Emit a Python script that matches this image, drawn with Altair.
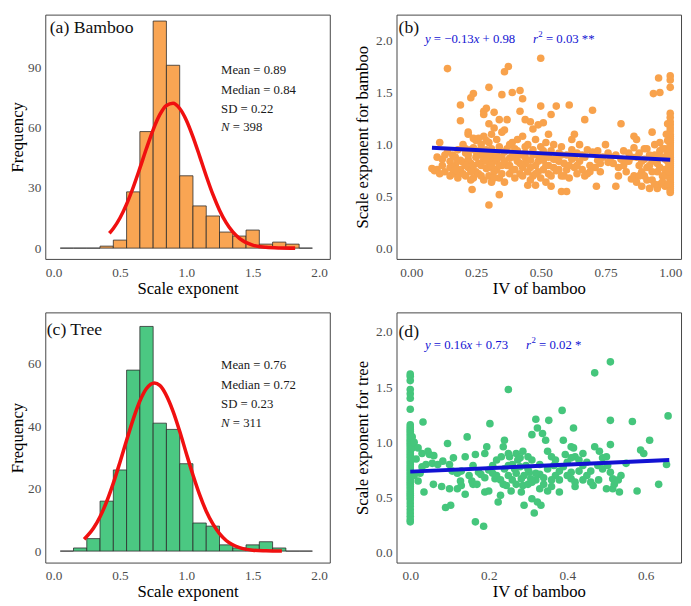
import altair as alt
import pandas as pd

FONT = "Liberation Serif"
ORANGE = "#F9A553"
ORANGE_PT = "#F8A24C"
GREEN = "#4BC882"
GREEN_PT = "#45C67C"
BLUE = "#1212D2"
RED = "#F01010"
LABEL_GREY = "#4d4d4d"

# ---------------- data ----------------
bin_centers = [0.1, 0.2, 0.3, 0.4, 0.5, 0.6, 0.7, 0.8, 0.9, 1.0,
               1.1, 1.2, 1.3, 1.4, 1.5, 1.6, 1.7, 1.8, 1.9]
bamboo_counts = [0, 0, 0, 1, 4, 28, 58, 113, 91, 36, 21, 16, 8, 6, 9, 2, 3, 2, 0]
tree_counts = [0, 1, 4, 16, 26, 58, 72, 41, 39, 28, 9, 8, 2, 1, 2, 3, 1, 0, 0]

bamboo_curve_x = [0.42, 0.45, 0.5, 0.55, 0.6, 0.65, 0.7, 0.75, 0.8, 0.85, 0.9, 0.95,
                  1.0, 1.05, 1.1, 1.15, 1.2, 1.25, 1.3, 1.35, 1.4, 1.5, 1.6, 1.7, 1.82]
bamboo_curve_y = [7.4, 9.8, 15.0, 21.9, 30.3, 39.8, 49.7, 58.9, 66.4, 71.0, 72.1, 69.5,
                  63.7, 55.4, 45.8, 35.9, 26.7, 18.9, 12.7, 8.1, 4.9, 1.5, 0.4, 0.1, 0.0]
tree_curve_x = [0.23, 0.3, 0.35, 0.4, 0.45, 0.5, 0.55, 0.6, 0.65, 0.7, 0.76, 0.8, 0.9,
                0.95, 1.0, 1.05, 1.1, 1.15, 1.2, 1.25, 1.3, 1.4, 1.5, 1.6, 1.72]
tree_curve_y = [3.8, 7.3, 11.0, 15.9, 21.8, 28.5, 35.5, 42.3, 48.1, 52.1, 53.9, 53.1, 44.8,
                38.4, 31.3, 24.4, 18.1, 12.8, 8.7, 5.6, 3.4, 1.1, 0.3, 0.1, 0.0]

bamboo_stats = ["Mean = 0.89", "Median = 0.84", "SD = 0.22"]
bamboo_n = "= 398"
tree_stats = ["Mean = 0.76", "Median = 0.72", "SD = 0.23"]
tree_n = "= 311"

# panel (b): IV of bamboo vs scale exponent for bamboo
bam_iv = [
    0.08, 0.10, 0.11, 0.10, 0.12, 0.13, 0.12, 0.14, 0.15, 0.14, 0.15, 0.09,
    0.16, 0.17, 0.17, 0.18, 0.19, 0.19, 0.20, 0.21, 0.21, 0.22, 0.22, 0.23, 0.23, 0.24, 0.25,
    0.25, 0.25, 0.235, 0.19, 0.19, 0.22, 0.23, 0.24, 0.24, 0.16, 0.20, 0.18, 0.23, 0.24, 0.22,
    0.26, 0.26, 0.27, 0.27, 0.28, 0.28, 0.28, 0.28, 0.29, 0.29, 0.29, 0.30, 0.30, 0.30, 0.30,
    0.30, 0.31, 0.31, 0.32, 0.32, 0.32, 0.33, 0.33, 0.33, 0.34, 0.34, 0.34, 0.34, 0.35, 0.35,
    0.35, 0.30, 0.27, 0.28, 0.31, 0.32,
    0.36, 0.36, 0.36, 0.36, 0.37, 0.375, 0.37, 0.38, 0.38, 0.38, 0.39, 0.39, 0.39, 0.40, 0.40,
    0.41, 0.41, 0.42, 0.42, 0.42, 0.42, 0.43, 0.43, 0.43, 0.44, 0.45, 0.44, 0.44, 0.45, 0.45,
    0.40, 0.35, 0.44,
    0.46, 0.46, 0.47, 0.47, 0.47, 0.48, 0.48, 0.48, 0.49, 0.49, 0.49, 0.50, 0.50, 0.50, 0.50,
    0.51, 0.51, 0.51, 0.52, 0.52, 0.52, 0.53, 0.53, 0.53, 0.54, 0.54, 0.54, 0.55, 0.55, 0.55,
    0.50, 0.46,
    0.56, 0.56, 0.57, 0.57, 0.58, 0.58, 0.58, 0.60, 0.59, 0.60, 0.60, 0.61, 0.61, 0.62, 0.62,
    0.62, 0.63, 0.63, 0.64, 0.64, 0.65, 0.65,
    0.66, 0.67, 0.67, 0.68, 0.68, 0.70, 0.69, 0.70, 0.715, 0.72, 0.73, 0.74, 0.75, 0.76, 0.76,
    0.67, 0.71,
    0.79, 0.78, 0.79, 0.80, 0.81, 0.81, 0.82, 0.83, 0.84, 0.85, 0.85, 0.86, 0.86, 0.84,
    0.86, 0.87, 0.87, 0.88, 0.89, 0.88, 0.89, 0.90, 0.90, 0.91, 0.91, 0.92, 0.93, 0.93, 0.93,
    0.94, 0.94, 0.935, 0.95, 0.95, 0.955, 0.95, 0.96, 0.96, 0.96, 0.96, 0.97, 0.97, 0.98, 0.98,
    0.98, 0.99,
    1.0, 1.0, 1.0, 1.0, 1.0, 1.0, 1.0, 1.0, 1.0, 1.0, 1.0, 1.0, 1.0, 1.0, 1.0, 1.0, 1.0, 1.0,
    1.0, 1.0, 1.0, 1.0, 1.0, 1.0, 1.0, 1.0, 1.0, 1.0, 1.0, 1.0, 1.0, 1.0, 1.0, 1.0, 1.0, 1.0,
    1.0, 1.0,
    0.11, 0.13, 0.15, 0.17, 0.18, 0.18, 0.20, 0.21, 0.21, 0.22, 0.23, 0.24, 0.25, 0.26, 0.26,
    0.27, 0.28, 0.29, 0.29, 0.30, 0.31, 0.31, 0.32, 0.33, 0.34, 0.35, 0.36, 0.37, 0.38, 0.39,
    0.40, 0.41, 0.42, 0.43, 0.44, 0.46, 0.47, 0.48, 0.49, 0.51, 0.52, 0.53, 0.54, 0.56, 0.57,
    0.58, 0.59, 0.61, 0.63, 0.64, 0.66, 0.69, 0.72, 0.73, 0.77, 0.80, 0.82, 0.83, 0.87, 0.88,
    0.89, 0.90, 0.91, 0.92, 0.92, 0.93, 0.94, 0.95, 0.96, 0.97, 0.97, 0.98, 0.98, 0.99, 0.99,
    0.99, 0.995, 0.995, 0.985, 0.99,
]
bam_se = [
    0.77, 0.88, 1.02, 0.76, 0.80, 0.74, 0.86, 0.93, 0.78, 1.73, 0.84, 0.75,
    0.72, 0.80, 0.88, 0.95, 0.76, 0.85, 1.00, 0.92, 0.70, 0.78, 1.10, 0.82, 0.66, 0.97, 0.88,
    1.04, 0.74, 0.57, 1.23, 1.38, 1.12, 1.45, 1.49, 0.68, 0.90, 0.83, 0.74, 0.95, 1.06, 0.86,
    0.72, 0.90, 1.00, 0.80, 0.66, 1.08, 1.32, 1.29, 1.35, 0.95, 0.77, 0.70, 0.42, 1.55, 1.20,
    1.02, 0.86, 0.64, 1.16, 1.31, 0.92, 0.76, 1.05, 0.84, 0.52, 1.24, 0.98, 0.68, 0.88, 1.12,
    1.48, 0.78, 0.96, 0.86, 1.10, 0.74,
    0.64, 1.14, 1.70, 0.93, 0.80, 1.75, 1.24, 0.72, 1.00, 0.87, 1.02, 1.50, 0.76, 0.68, 0.96,
    0.84, 1.05, 0.72, 1.52, 1.32, 0.90, 0.78, 1.44, 1.08, 0.98, 0.61, 1.24, 0.82, 0.74, 1.00,
    0.88, 0.80, 0.92,
    0.85, 1.22, 0.70, 1.15, 0.95, 0.61, 1.05, 0.80, 1.19, 0.90, 0.74, 1.83, 1.37, 0.68, 0.98,
    0.85, 1.21, 0.76, 1.02, 0.64, 0.90, 1.10, 0.80, 0.72, 1.29, 0.60, 0.94, 0.86, 0.78, 1.00,
    0.88, 0.66,
    1.37, 0.75, 0.92, 0.84, 0.55, 0.70, 0.98, 0.55, 0.82, 0.76, 0.90, 1.38, 0.68, 0.95, 0.86,
    1.05, 0.78, 1.10, 0.72, 0.92, 0.84, 1.00,
    0.76, 1.24, 0.88, 0.72, 0.95, 1.33, 0.80, 0.93, 0.60, 0.85, 0.74, 0.88, 1.00, 0.92, 0.83,
    0.70, 0.78,
    0.60, 0.82, 0.90, 0.78, 0.86, 1.20, 0.80, 0.74, 0.92, 0.67, 0.88, 0.97, 0.70, 0.84,
    1.08, 1.05, 0.64, 0.80, 0.74, 0.92, 0.60, 0.86, 0.70, 0.96, 0.78, 0.58, 1.12, 0.84, 0.66,
    1.00, 0.90, 1.49, 0.74, 0.58, 1.64, 0.82, 0.94, 1.50, 0.62, 1.02, 0.70, 0.88, 0.76, 0.60,
    0.96, 0.84,
    0.54, 0.56, 0.58, 0.60, 0.62, 0.64, 0.66, 0.68, 0.70, 0.72, 0.74, 0.76, 0.78, 0.80, 0.82,
    0.84, 0.86, 0.88, 0.90, 0.92, 0.94, 0.96, 0.98, 1.00, 1.02, 1.04, 1.06, 1.08, 1.10, 1.13,
    1.16, 1.19, 1.22, 1.26, 1.30, 1.55, 1.62, 1.66,
    0.72, 0.90, 0.70, 0.76, 0.84, 0.68, 0.72, 0.80, 0.96, 0.90, 0.74, 0.80, 0.94, 0.82, 1.06,
    0.70, 0.92, 0.84, 1.04, 0.90, 0.80, 0.96, 0.68, 0.90, 0.80, 0.72, 0.84, 0.96, 0.80, 0.90,
    0.76, 0.94, 0.82, 0.70, 0.88, 0.78, 0.90, 0.72, 0.84, 0.94, 0.80, 0.88, 0.70, 0.86, 0.76,
    0.90, 0.70, 0.80, 0.88, 0.80, 0.90, 0.74, 0.94, 0.82, 0.88, 0.70, 0.94, 0.84, 0.88, 0.70,
    0.84, 0.96, 0.66, 0.80, 0.90, 0.74, 0.62, 0.88, 0.78, 0.64, 0.96, 0.86, 0.70, 0.62, 0.92,
    1.04, 0.74, 0.80, 1.10, 1.20,
]

# panel (d): IV of bamboo vs scale exponent for tree
tree_iv = [
    0.0, 0.0, 0.0, 0.0, 0.0, 0.0, 0.0, 0.0, 0.0, 0.0, 0.0, 0.0, 0.0, 0.0, 0.0, 0.0, 0.0, 0.0,
    0.0, 0.0, 0.0, 0.0, 0.0, 0.0, 0.0, 0.0, 0.0, 0.0, 0.0, 0.0, 0.0, 0.0, 0.0, 0.0, 0.0, 0.0,
    0.0, 0.0, 0.0, 0.0, 0.0, 0.0, 0.0, 0.0, 0.0, 0.0, 0.0, 0.0, 0.0,
    0.005, 0.005, 0.005, 0.005,
    0.01, 0.02, 0.02, 0.03, 0.0325, 0.035, 0.04, 0.049, 0.059, 0.056, 0.045, 0.025, 0.03, 0.015,
    0.01,
    0.083, 0.095, 0.09, 0.103, 0.10, 0.107, 0.12, 0.13, 0.145, 0.14, 0.14, 0.128, 0.157, 0.16,
    0.166, 0.166, 0.187, 0.16, 0.174, 0.19, 0.195, 0.203, 0.19, 0.20, 0.18, 0.21, 0.216, 0.224,
    0.23, 0.232, 0.237, 0.24, 0.237, 0.245, 0.25, 0.253, 0.257, 0.25, 0.27, 0.274, 0.266, 0.283,
    0.287, 0.283, 0.287, 0.29, 0.30, 0.295, 0.303, 0.307, 0.316, 0.31, 0.324, 0.333, 0.32,
    0.324, 0.337, 0.345, 0.31, 0.33, 0.353, 0.35, 0.36, 0.366, 0.37, 0.38, 0.387, 0.39, 0.395,
    0.41, 0.416, 0.42, 0.416, 0.41, 0.41, 0.43, 0.44, 0.45, 0.46, 0.466, 0.47, 0.47, 0.482,
    0.478, 0.49, 0.51, 0.51, 0.51, 0.50, 0.503, 0.51, 0.516, 0.50, 0.516, 0.533, 0.537, 0.55,
    0.566, 0.578, 0.587, 0.595, 0.61, 0.633, 0.657, 0.653,
    0.22, 0.26, 0.28, 0.30, 0.32, 0.34, 0.36, 0.38, 0.40, 0.42, 0.44, 0.35, 0.33, 0.27, 0.25,
    0.12, 0.20, 0.06, 0.11, 0.15,
    0.21, 0.22, 0.23, 0.24, 0.25, 0.26, 0.27, 0.28, 0.29, 0.30, 0.31, 0.31, 0.32, 0.33, 0.34,
    0.35, 0.36, 0.37, 0.38, 0.39, 0.40, 0.41, 0.42, 0.43, 0.44, 0.45, 0.46, 0.48, 0.49, 0.52,
    0.53, 0.10, 0.13, 0.17, 0.19, 0.07, 0.08,
]
tree_se = [
    0.28, 0.30, 0.33, 0.36, 0.39, 0.42, 0.45, 0.48, 0.50, 0.52, 0.54, 0.56, 0.58, 0.60, 0.62,
    0.64, 0.66, 0.68, 0.70, 0.72, 0.74, 0.76, 0.78, 0.80, 0.82, 0.84, 0.86, 0.88, 0.90, 0.92,
    0.94, 0.96, 0.98, 1.00, 1.02, 1.04, 1.06, 1.08, 1.10, 1.12, 1.14, 1.16, 1.30, 1.40, 1.44,
    1.48, 1.56, 1.60, 1.62,
    0.85, 0.95, 1.05, 0.70,
    1.00, 0.95, 0.65, 0.90, 1.185, 0.55, 0.80, 0.89, 0.62, 0.81, 0.92, 0.72, 0.78, 0.85,
    0.70,
    0.83, 0.99, 0.41, 0.43, 0.58, 0.74, 0.58, 0.61, 1.05, 0.87, 0.53, 0.65, 0.65, 0.62,
    0.89, 0.28, 0.24, 0.79, 0.73, 0.90, 0.96, 1.17, 0.55, 0.56, 0.71, 0.79, 0.67, 0.46,
    0.52, 0.87, 0.96, 1.02, 0.62, 0.61, 0.79, 0.87, 0.56, 1.48, 0.90, 0.84, 0.76, 0.67,
    0.61, 0.55, 0.92, 0.43, 0.87, 0.79, 0.73, 0.67, 0.36, 0.49, 0.46, 0.43, 1.21,
    1.13, 1.08, 1.02, 1.07, 0.71, 1.20, 0.56, 0.87, 0.79, 0.70, 0.55, 1.29, 1.02, 0.89,
    0.96, 0.95, 0.87, 1.13, 0.73, 0.67, 0.84, 0.79, 0.70, 0.64, 0.61, 1.63, 0.96, 0.92,
    0.79, 0.76, 1.73, 1.20, 0.98, 0.87, 0.79, 0.73, 0.67, 0.58, 0.58, 0.55, 0.70, 0.81,
    1.19, 0.56, 0.93, 0.90, 1.02, 0.62, 1.24, 0.80,
    0.70, 0.66, 0.78, 0.62, 0.66, 0.62, 0.66, 0.74, 0.82, 0.60, 0.90, 0.92, 0.58, 0.72, 0.70,
    0.72, 0.75, 0.88, 0.86, 0.70,
    0.72, 0.84, 0.66, 0.76, 0.90, 0.80, 0.62, 0.86, 0.70, 0.76, 0.64, 0.84, 0.72, 0.80, 0.68,
    0.76, 0.60, 0.84, 0.66, 0.78, 0.70, 0.86, 0.64, 0.74, 0.66, 0.82, 0.74, 0.66, 0.86, 0.62,
    0.66, 0.80, 0.74, 0.62, 0.68, 0.80, 0.60,
]

bam_fit_x = [0.08, 1.0]
bam_fit_y = [0.97, 0.855]
tree_fit_x = [0.0, 0.66]
tree_fit_y = [0.735, 0.84]

# ---------------- helpers ----------------
CHAR_W = {"0": .5, "1": .5, "2": .5, "3": .5, "4": .5, "5": .5, "6": .5, "7": .5,
          "8": .5, "9": .5, ".": .25, " ": .25, "=": .564, "+": .564, "\u2212": .564,
          "*": .5, "y": .444, "x": .444, "r": .389, "N": .667}


def text_width(s, size):
    return sum(CHAR_W.get(c, .5) for c in s) * size


def axis_common():
    return dict(grid=False, ticks=False, domain=False, labelFont=FONT,
                labelFontSize=13.5, labelColor=LABEL_GREY, titleFont=FONT,
                titleFontSize=17, titleFontWeight="normal", titleColor="#000000",
                labelFlush=False, labelOverlap=False)


def xaxis(title, values, fmt):
    return alt.Axis(title=title, values=values, format=fmt, labelPadding=6.5,
                    titlePadding=2, **axis_common())


def yaxis(title, values, fmt, title_pad):
    return alt.Axis(title=title, values=values, format=fmt, labelPadding=4.5,
                    titlePadding=title_pad, **axis_common())


def text_runs(x0, y0, runs, color, xs, ys, xa, ya):
    """runs: list of (text, style, size, gap_em_before, dy)"""
    layers = []
    off = 0.0
    prev_w = 0.0
    for txt, style, size, gap, dy in runs:
        off += prev_w + gap * 13
        layers.append(
            alt.Chart(pd.DataFrame({"x": [x0], "y": [y0]})).mark_text(
                text=txt, font=FONT, fontSize=size, fontStyle=style, color=color,
                align="left", baseline="middle", dx=off, dy=dy
            ).encode(x=alt.X("x:Q", scale=xs, axis=xa), y=alt.Y("y:Q", scale=ys, axis=ya))
        )
        prev_w = text_width(txt, size)
    return layers


def hist_panel(counts, cx, cy, fill, ydom, yvals, label, label_pos, stats, nval,
               stat_x, stat_y, width, height):
    xs = alt.Scale(domain=[-0.0627, 2.081], nice=False, zero=False)
    ys = alt.Scale(domain=ydom, nice=False, zero=False)
    xa = xaxis("Scale exponent", [0, 0.5, 1.0, 1.5, 2.0], ".1f")
    ya = yaxis("Frequency", yvals, "d", 1.5)
    df = pd.DataFrame({"center": bin_centers, "count": counts})
    bars = alt.Chart(df).transform_calculate(
        x0="datum.center - 0.05", x1="datum.center + 0.05", base="0"
    ).mark_rect(fill=fill, stroke="#2b2b2b", strokeWidth=0.8).encode(
        x=alt.X("x0:Q", scale=xs, axis=xa), x2="x1:Q",
        y=alt.Y("count:Q", scale=ys, axis=ya), y2="base:Q")
    curve = alt.Chart(pd.DataFrame({"x": cx, "y": cy})).mark_line(
        color=RED, strokeWidth=3.6, interpolate="monotone", strokeCap="butt"
    ).encode(x=alt.X("x:Q", scale=xs, axis=xa), y=alt.Y("y:Q", scale=ys, axis=ya))
    lab = alt.Chart(pd.DataFrame({"x": [label_pos[0]], "y": [label_pos[1]], "t": [label]})).mark_text(
        font=FONT, fontSize=18, align="left", baseline="middle", color="#111111"
    ).encode(x=alt.X("x:Q", scale=xs, axis=xa), y=alt.Y("y:Q", scale=ys, axis=ya), text="t:N")
    sdf = pd.DataFrame({"x": [stat_x] * 3, "y": stat_y[:3], "t": stats})
    st = alt.Chart(sdf).mark_text(
        font=FONT, fontSize=13, align="left", baseline="middle", color="#1a1a1a"
    ).encode(x=alt.X("x:Q", scale=xs, axis=xa), y=alt.Y("y:Q", scale=ys, axis=ya), text="t:N")
    nruns = text_runs(stat_x, stat_y[3], [("N", "italic", 13, 0, 0), (nval, "normal", 13, .25, 0)],
                      "#1a1a1a", xs, ys, xa, ya)
    return alt.layer(bars, curve, lab, st, *nruns).properties(width=width, height=height)


def scatter_panel(px, py, color, xdom, xvals, xfmt, ytitle, ydom, fitx, fity, label,
                  label_pos, eq_pos, eq_runs, r_pos, r_runs, width, height):
    xs = alt.Scale(domain=xdom, nice=False, zero=False)
    ys = alt.Scale(domain=ydom, nice=False, zero=False)
    xa = xaxis("IV of bamboo", xvals, xfmt)
    ya = yaxis(ytitle, [0, 0.5, 1.0, 1.5, 2.0], ".1f", 4)
    pts = alt.Chart(pd.DataFrame({"x": px, "y": py})).mark_circle(
        size=60, opacity=1, color=color
    ).encode(x=alt.X("x:Q", scale=xs, axis=xa), y=alt.Y("y:Q", scale=ys, axis=ya))
    fit = alt.Chart(pd.DataFrame({"x": fitx, "y": fity})).mark_line(
        color=BLUE, strokeWidth=4
    ).encode(x=alt.X("x:Q", scale=xs, axis=xa), y=alt.Y("y:Q", scale=ys, axis=ya))
    lab = alt.Chart(pd.DataFrame({"x": [label_pos[0]], "y": [label_pos[1]], "t": [label]})).mark_text(
        font=FONT, fontSize=18, align="left", baseline="middle", color="#111111"
    ).encode(x=alt.X("x:Q", scale=xs, axis=xa), y=alt.Y("y:Q", scale=ys, axis=ya), text="t:N")
    eq = text_runs(eq_pos[0], eq_pos[1], eq_runs, BLUE, xs, ys, xa, ya)
    rr = text_runs(r_pos[0], r_pos[1], r_runs, BLUE, xs, ys, xa, ya)
    return alt.layer(pts, fit, lab, *eq, *rr).properties(width=width, height=height)


# ---------------- panels ----------------
W1, W2 = 290, 290
H1, H2 = 249, 255

pa = hist_panel(bamboo_counts, bamboo_curve_x, bamboo_curve_y, ORANGE, [-5.37, 116.2],
                [0, 30, 60, 90], "(a) Bamboo", (-0.0295, 109.4), bamboo_stats, bamboo_n,
                1.262, [88.4, 78.6, 69.3, 60.1], W1, H1)
pc = hist_panel(tree_counts, tree_curve_x, tree_curve_y, GREEN, [-3.68, 76.5],
                [0, 20, 40, 60], "(c) Tree", (-0.052, 70.85), tree_stats, tree_n,
                1.262, [59.5, 53.2, 47.2, 40.9], W1, H2)

pb = scatter_panel(
    bam_iv, bam_se, ORANGE_PT, [-0.0568, 1.0417], [0, 0.25, 0.5, 0.75, 1.0], ".2f",
    "Scale exponent for bamboo", [-0.097, 2.248], bam_fit_x, bam_fit_y, "(b)",
    (-0.049, 2.116), (0.053, 2.012),
    [("y", "italic", 13, 0, 0), ("= \u22120.13", "normal", 13, .25, 0),
     ("x", "italic", 13, 0, 0), ("+ 0.98", "normal", 13, .25, 0)],
    (0.4697, 2.012),
    [("r", "italic", 13, 0, 0), ("2", "normal", 9, .04, -5), ("= 0.03 **", "normal", 13, .25, 0)],
    W2, H1)

pd_ = scatter_panel(
    tree_iv, tree_se, GREEN_PT, [-0.035, 0.69], [0, 0.2, 0.4, 0.6], ".1f",
    "Scale exponent for tree", [-0.089, 2.178], tree_fit_x, tree_fit_y, "(d)",
    (-0.03, 2.0), (0.0375, 1.884),
    [("y", "italic", 13, 0, 0), ("= 0.16", "normal", 13, .25, 0),
     ("x", "italic", 13, 0, 0), ("+ 0.73", "normal", 13, .25, 0)],
    (0.295, 1.884),
    [("r", "italic", 13, 0, 0), ("2", "normal", 9, .04, -5), ("= 0.02 *", "normal", 13, .25, 0)],
    W2, H2)

chart = alt.vconcat(
    alt.hconcat(pa, pb, spacing=23),
    alt.hconcat(pc, pd_, spacing=23),
    spacing=14.5,
).properties(
    padding={"left": 0, "top": 0, "right": 0, "bottom": 0},
    background="white",
).configure_view(
    stroke="#444444", strokeWidth=1
)

chart.save("out.html", embed_options={"renderer": "svg", "actions": False})
